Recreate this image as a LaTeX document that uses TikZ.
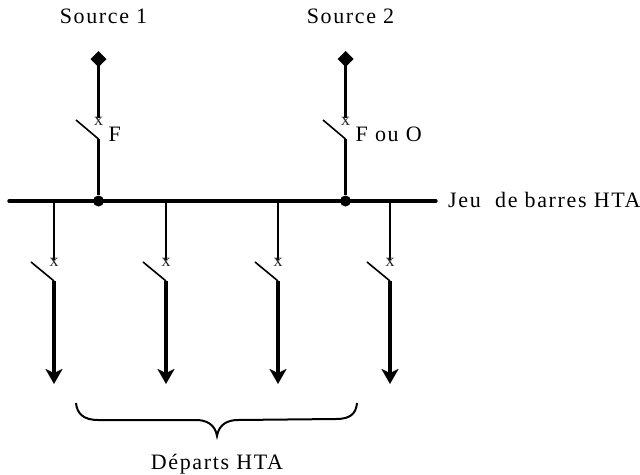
\documentclass[tikz,border=0pt]{standalone}
\usepackage{fontspec}
\setmainfont[LetterSpace=7.5]{Liberation Serif}
\usetikzlibrary{arrows.meta}
\tikzset{
  bar/.style={line width=3.4pt},
  thin wire/.style={line width=1.5pt},
  thick wire/.style={line width=3.2pt},
  blade/.style={line width=1.6pt},
  mark x/.style={inner sep=0pt,font=\fontsize{18}{18}\selectfont,text=black!85},
  label/.style={inner sep=0pt,font=\fontsize{22}{24}\selectfont},
  point/.style={circle,fill=black,inner sep=0pt,minimum size=11pt},
  source/.style={fill=black,inner sep=0pt}
}
\begin{document}
\begin{tikzpicture}[x=1pt,y=-1pt]
    \useasboundingbox (0,0) rectangle (640,474);

    % Jeu de barres
    \coordinate (barG) at (9,201);
    \coordinate (barD) at (436,201);
    \draw[bar,line cap=round] (barG) -- (barD);
    \node[label,anchor=west] (barres) at (448,200) {Jeu\ \ de barres HTA};

    % Sources
    \foreach \x/\n/\t in {98.5/1/F,345.5/2/F ou O} {
        \node[label] (titre\n) at (\x+5,16) {Source \n};
        \node[source] (src\n) at (\x,59) {};
        \fill (\x,51) -- (\x+8,59) -- (\x,67) -- (\x-8,59) -- cycle;
        \coordinate (haut\n) at (\x,118);
        \coordinate (pivot\n) at (\x,139);
        \coordinate (lame\n) at (\x-22.5,120);
        \node[point] (noeud\n) at (\x,201) {};
        \draw[thick wire] (src\n) -- (haut\n);
        \draw[blade] (lame\n) -- (pivot\n);
        \draw[thick wire] (pivot\n) -- (noeud\n);
        \node[mark x] (x\n) at (\x,121) {x};
        \node[label,anchor=west] (etat\n) at (\x+10,134) {\t};
    }

    % Departs
    \foreach \x/\n in {54/a,166/b,278/c,390/d} {
        \coordinate (bar\n) at (\x,201);
        \coordinate (haut\n) at (\x,260);
        \coordinate (pivot\n) at (\x,281);
        \coordinate (lame\n) at (\x-23,262);
        \coordinate (fin\n) at (\x,384);
        \draw[thin wire] (bar\n) -- (haut\n);
        \draw[blade] (lame\n) -- (pivot\n);
        \draw[thick wire,-{Stealth[length=15pt,width=17pt,inset=4pt]}] (pivot\n) -- (fin\n);
        \node[mark x] (x\n) at (\x,262) {x};
    }

    % Accolade
    \coordinate (accG) at (76,403);
    \coordinate (accD) at (357,403);
    \coordinate (accM) at (217,436);
    \draw[line width=2pt]
        (accG) .. controls (77,414) and (84,420) .. (98,420)
        -- (196,420) .. controls (206,420) and (215,424) .. (accM)
        .. controls (219,424) and (228,420) .. (238,420)
        -- (336,419) .. controls (350,419) and (356,414) .. (accD);
    \node[label] (departs) at (217,464.5) {Départs HTA};
\end{tikzpicture}
\end{document}
